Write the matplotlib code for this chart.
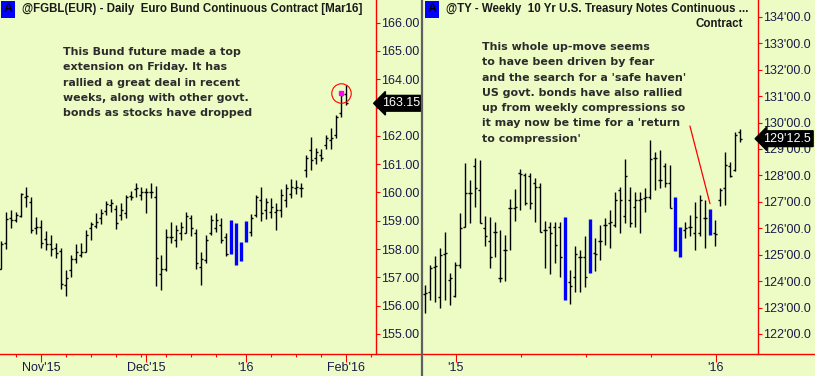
import matplotlib
matplotlib.use("Agg")
import matplotlib.pyplot as plt
from matplotlib.lines import Line2D
import numpy as np

plt.rcParams["font.family"] = ["Liberation Sans", "DejaVu Sans"]

# Euro Bund, daily bars (late Oct'15 - 1 Feb'16)
bund_open = [157.31, 158.20, 159.08, 159.02, 159.17, 159.85, 159.65, 158.76, 158.79, 158.37,
             158.16, 158.02, 157.94, 156.72, 157.25, 157.64, 157.78, 157.90, 158.73, 158.81,
             159.08, 159.34, 159.55, 159.43, 159.20, 159.26, 159.88, 160.12, 159.91, 160.02,
             160.00, 159.85, 157.11, 157.28, 158.43, 158.31, 158.55, 158.57, 159.08, 158.55,
             157.37, 157.61, 158.57, 158.73, 158.85, 158.43, 158.90, 158.80, 158.15, 158.30,
             158.61, 159.20, 159.73, 159.38, 159.32, 159.32, 159.38, 159.73, 159.96, 160.14,
             160.14, 160.79, 161.50, 161.20, 161.32, 161.67, 161.85, 162.03, 162.79, 163.47]
bund_high = [158.29, 159.32, 159.38, 159.32, 159.99, 160.20, 159.85, 159.14, 159.02, 158.63,
             158.49, 158.20, 158.04, 157.25, 157.78, 158.16, 158.20, 158.67, 158.96, 159.29,
             159.43, 159.69, 159.75, 159.55, 159.61, 159.91, 160.05, 160.35, 160.20, 160.14,
             160.32, 160.22, 157.78, 158.70, 158.94, 158.85, 158.96, 159.32, 159.20, 158.70,
             157.90, 158.49, 159.20, 159.26, 159.08, 158.55, 159.02, 158.93, 158.26, 158.99,
             159.23, 159.91, 160.18, 159.81, 159.81, 159.63, 160.11, 160.29, 160.49, 160.44,
             160.32, 161.34, 161.97, 161.58, 161.55, 162.03, 162.26, 162.73, 163.56, 163.79]
bund_low = [157.29, 157.99, 158.75, 158.96, 159.14, 159.47, 158.55, 158.53, 158.04, 157.96,
            157.76, 157.67, 156.57, 156.35, 157.02, 157.49, 157.73, 157.88, 158.31, 158.75,
            158.90, 159.20, 159.32, 158.70, 159.02, 159.10, 159.73, 159.85, 159.73, 159.28,
            159.82, 156.69, 156.55, 157.23, 158.20, 158.08, 158.31, 158.55, 158.47, 157.31,
            156.72, 157.49, 158.49, 158.61, 158.23, 157.75, 157.81, 157.44, 157.58, 158.26,
            158.46, 159.14, 159.00, 159.05, 159.10, 158.67, 159.14, 159.49, 159.79, 159.96,
            159.85, 160.55, 160.81, 161.02, 161.12, 161.55, 161.55, 161.91, 162.67, 163.09]
bund_close = [158.16, 159.06, 159.02, 159.20, 159.96, 159.88, 158.67, 158.78, 158.23, 158.17,
              157.99, 157.87, 156.76, 156.96, 157.64, 157.88, 157.88, 158.49, 158.90, 158.96,
              159.26, 159.58, 159.61, 158.93, 159.38, 159.85, 159.85, 160.16, 160.02, 160.00,
              160.00, 157.67, 157.29, 158.43, 158.41, 158.67, 158.79, 159.16, 158.73, 157.49,
              157.63, 158.31, 159.02, 159.02, 158.31, 157.81, 157.90, 157.55, 157.70, 158.90,
              159.08, 159.85, 159.26, 159.67, 159.49, 159.38, 159.91, 160.14, 160.20, 160.20,
              160.14, 161.20, 161.14, 161.44, 161.20, 161.91, 161.91, 162.67, 163.44, 163.15]
bund_blue = [46, 47, 48, 49]
bund_xticks = [8, 29, 49, 69]
bund_xlabels = ["Nov'15", "Dec'15", "'16", "Feb'16"]
bund_xminor = [3, 13, 18, 23, 28, 33, 38, 43, 54, 59, 64, 74]
bund_yticks = list(range(155, 167))
bund_last = "163.15"
bund_note = ("This Bund future made a top\nextension on Friday. It has\n"
             "rallied a great deal in recent\nweeks, along with other govt.\n"
             "bonds as stocks have dropped")

# 10 Yr T-Note, weekly bars (mid Nov'14 - Feb'16)
ty_open = [123.50, 123.57, 124.55, 123.41, 125.03, 124.05, 123.44, 124.61, 126.06, 127.33,
           128.34, 127.45, 126.00, 125.50, 125.87, 124.11, 125.18, 126.76, 126.76, 128.08,
           128.02, 127.96, 127.73, 127.58, 125.94, 126.06, 126.06, 126.06, 126.30, 123.98,
           124.17, 124.93, 124.93, 124.40, 125.06, 125.50, 126.13, 126.19, 126.13, 127.45,
           126.47, 127.07, 126.82, 127.07, 127.14, 127.17, 128.65, 127.83, 128.34, 127.70,
           127.00, 125.90, 125.94, 126.06, 125.81, 125.81, 126.38, 126.60, 125.81, 127.07,
           127.52, 128.34, 128.21, 129.66]
ty_high = [123.86, 124.61, 124.95, 125.24, 125.84, 124.30, 124.74, 126.57, 128.46, 127.83,
           128.65, 128.59, 126.47, 126.44, 126.25, 125.94, 125.75, 127.10, 127.48, 128.23,
           128.08, 128.08, 127.89, 127.70, 126.29, 126.25, 126.25, 126.25, 126.44, 124.42,
           125.31, 125.16, 125.69, 126.34, 125.62, 126.13, 126.38, 126.70, 127.39, 127.58,
           128.61, 127.58, 127.39, 127.39, 127.52, 129.34, 128.87, 128.97, 128.46, 128.40,
           127.17, 126.04, 126.25, 126.51, 127.01, 127.26, 127.07, 126.73, 126.32, 127.52,
           128.90, 128.52, 129.64, 129.75]
ty_low = [122.78, 123.29, 123.20, 122.97, 123.29, 123.10, 123.39, 124.49, 126.04, 126.19,
          126.82, 126.19, 125.31, 124.49, 124.93, 123.98, 124.01, 125.18, 126.29, 126.70,
          126.88, 126.72, 126.25, 125.84, 124.49, 124.26, 124.68, 124.17, 123.29, 123.14,
          123.57, 123.57, 123.79, 124.32, 124.40, 124.80, 125.37, 125.24, 126.06, 125.81,
          126.19, 126.04, 126.06, 125.81, 126.63, 127.11, 127.45, 127.52, 127.58, 126.76,
          125.12, 124.93, 125.62, 125.69, 125.18, 125.71, 125.27, 125.75, 125.31, 126.85,
          126.88, 127.93, 128.15, 129.28]
ty_close = [123.54, 124.49, 124.57, 124.99, 125.06, 124.11, 124.61, 126.00, 127.33, 127.33,
            127.52, 126.21, 125.69, 124.93, 125.87, 124.11, 125.18, 126.76, 126.80, 128.06,
            126.95, 126.95, 127.58, 125.87, 125.94, 125.81, 125.37, 124.93, 123.40, 123.82,
            125.03, 124.93, 124.17, 126.20, 125.03, 125.50, 126.13, 126.25, 127.07, 127.07,
            127.96, 126.19, 127.07, 127.10, 127.17, 128.61, 128.65, 127.81, 127.73, 126.78,
            125.30, 125.05, 126.00, 126.06, 126.44, 127.07, 126.38, 125.85, 125.78, 127.45,
            128.40, 127.96, 129.53, 129.39]
ty_blue = [28, 33, 50, 51, 57]
ty_xticks = [6.1, 58.1]
ty_xlabels = ["'15", "'16"]
ty_xminor = [19.1, 32.1, 45.1]
ty_yticks = list(range(122, 135))
ty_last = "129'12.5"
ty_note = ("This whole up-move seems\nto have been driven by fear\n"
           "and the search for a 'safe haven'\nUS govt. bonds have also rallied\n"
           "up from weekly compressions so\nit may now be time for a 'return\n"
           "to compression'")

BG = "#ECFCC4"
RED = "#FF0000"
LBL = "#1a1a4a"
W, H = 815, 376

fig = plt.figure(figsize=(W / 100, H / 100), dpi=100, facecolor=BG)


def add_px_axes(x0, x1, y0, y1):
    # box given in pixels from the top-left corner
    return fig.add_axes([x0 / W, 1 - y1 / H, (x1 - x0) / W, (y1 - y0) / H])


def ftext(x, y, s, **kw):
    return fig.text(x / W, 1 - y / H, s, **kw)


def draw_bars(ax, o, h, l, c, blue):
    o, h, l, c = map(np.asarray, (o, h, l, c))
    x = np.arange(len(o))
    keep = np.array([i not in blue for i in x])
    ax.vlines(x[keep], l[keep], h[keep], color="black", lw=1.0)
    ax.hlines(o[keep], x[keep] - 0.4, x[keep], color="black", lw=1.0)
    ax.hlines(c[keep], x[keep], x[keep] + 0.4, color="black", lw=1.0)
    ax.vlines(x[blue], l[blue], h[blue], color="#0000FF", lw=2.4)


def style(ax, xlim, ylim, yt, ylab, xt, xl, xm):
    ax.set_facecolor(BG)
    ax.set_xlim(*xlim)
    ax.set_ylim(*ylim)
    for s in ["top", "left", "bottom"]:
        ax.spines[s].set_visible(False)
    ax.spines["right"].set_color(RED)
    ax.spines["right"].set_linewidth(1.0)
    ax.yaxis.tick_right()
    ax.set_yticks(yt)
    ax.set_yticklabels(ylab)
    ax.tick_params(axis="y", colors=RED, labelcolor=LBL, length=3, width=0.8, pad=1, labelsize=9)
    ax.set_xticks(xt)
    ax.set_xticklabels(xl)
    ax.set_xticks(xm, minor=True)
    ax.tick_params(axis="x", which="major", colors=RED, labelcolor=LBL, length=5.5, width=0.8,
                   pad=0.5, labelsize=9)
    ax.tick_params(axis="x", which="minor", colors=RED, length=2.4, width=0.8)


def last_label(ax, price, s):
    ax.annotate(s, xy=(1, price), xycoords=("axes fraction", "data"), xytext=(6, 0),
                textcoords="offset pixels", ha="left", va="center", color="white", fontsize=9,
                bbox=dict(boxstyle="larrow,pad=0.15", fc="black", ec="black"),
                annotation_clip=False, zorder=5)


# left panel (the 163.00 label sits under the last-price box)
ax1 = add_px_axes(0, 376, 0, 354)
draw_bars(ax1, bund_open, bund_high, bund_low, bund_close, bund_blue)
bund_ylab = ["" if abs(v - bund_close[-1]) < 0.4 else f"{v:.2f}" for v in bund_yticks]
style(ax1, (-0.2, 75), (154.29, 166.80), bund_yticks, bund_ylab,
      bund_xticks, bund_xlabels, bund_xminor)
top = len(bund_high) - 2
ax1.plot(top, bund_high[top] - 0.05, marker="s", ms=2.5, color="#FF00FF", mec="#FF00FF")
ax1.plot(top, bund_high[top] - 0.05, marker="o", ms=14, mfc="none", mec=RED, mew=0.8)
last_label(ax1, bund_close[-1], bund_last)

# right panel
ax2 = add_px_axes(423, 757.5, 0, 354)
draw_bars(ax2, ty_open, ty_high, ty_low, ty_close, ty_blue)
style(ax2, (-0.4, 66.5), (121.24, 134.64), ty_yticks, [f"{v}'00.0" for v in ty_yticks],
      ty_xticks, ty_xlabels, ty_xminor)
last_label(ax2, ty_close[-1], ty_last)
ax2.annotate("", xy=(ty_blue[-1], ty_high[ty_blue[-1]] + 0.2), xytext=(0.798, 0.644),
             textcoords="axes fraction",
             arrowprops=dict(arrowstyle="-", color=RED, lw=0.9, shrinkA=0, shrinkB=0))

# frame lines
fig.add_artist(Line2D([0, 1], [1 - 354 / H] * 2, transform=fig.transFigure, color=RED, lw=1.0))
fig.add_artist(Line2D([422 / W] * 2, [0, 1], transform=fig.transFigure, color="#606060", lw=1.6))

# titles
abox = dict(boxstyle="square,pad=0.2", fc="#0000FF", ec="none")
ftext(8, 9, "A", ha="center", va="center", fontsize=9, fontweight="bold", bbox=abox)
ftext(22, 9, "@FGBL(EUR) - Daily  Euro Bund Continuous Contract [Mar16]", ha="left",
      va="center", fontsize=8.3, fontweight="bold", color="#1a1a1a")
ftext(432, 9, "A", ha="center", va="center", fontsize=9, fontweight="bold", bbox=abox)
ftext(446, 9, "@TY - Weekly  10 Yr U.S. Treasury Notes Continuous ...", ha="left",
      va="center", fontsize=8.3, fontweight="bold", color="#1a1a1a")
ftext(743, 24, "Contract", ha="right", va="center", fontsize=8.3, fontweight="bold",
      color="#1a1a1a")

# notes
note_font = dict(ha="left", va="top", fontsize=7.9, fontweight="bold", color="#2b2b2b",
                 linespacing=1.66, family="DejaVu Sans")
ftext(63, 47, bund_note, **note_font)
ftext(482, 42, ty_note, **note_font)

fig.savefig("out.png", dpi=100, facecolor=BG)
